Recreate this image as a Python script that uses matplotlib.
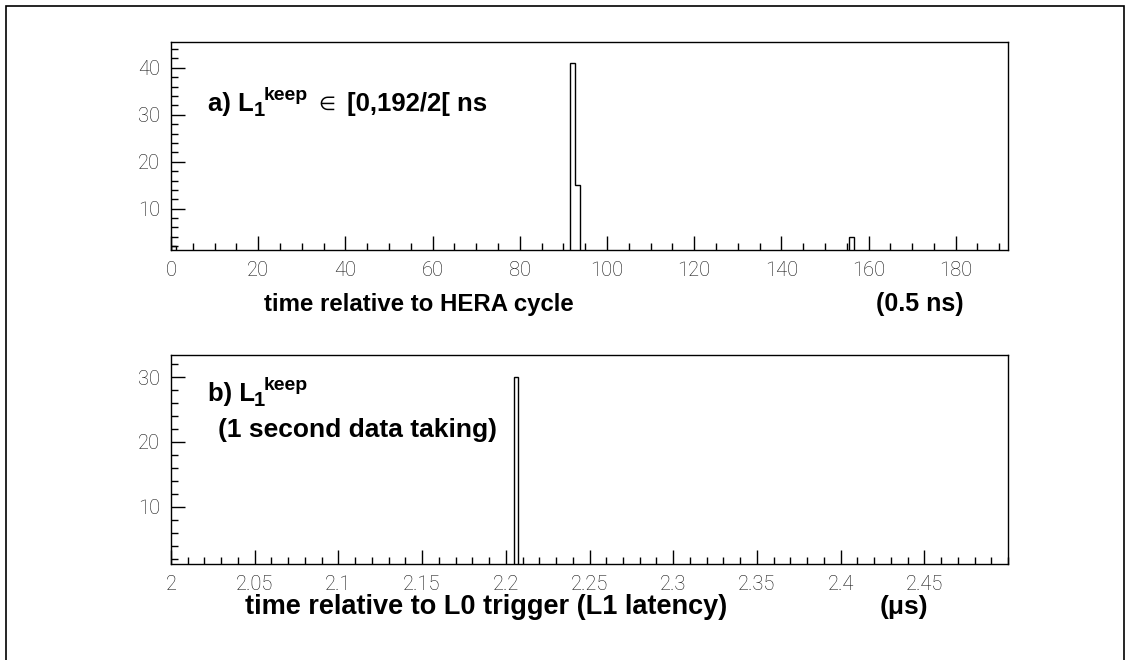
import numpy as np
import matplotlib
matplotlib.use("Agg")
import matplotlib.pyplot as plt
from matplotlib.patches import Rectangle
from matplotlib.ticker import MultipleLocator

plt.rcParams['font.family'] = ['Liberation Sans', 'DejaVu Sans']

# panel a: time relative to HERA cycle (0.5 ns units), 168 bins on [0,192[
a_nbins = 168
a_range = (0, 192)
a_filled = [0, 80, 81, 136]
a_counts = [2, 41, 15, 4]
a_xticks = [0, 20, 40, 60, 80, 100, 120, 140, 160, 180]

# panel b: time relative to L0 trigger (us), 200 bins on [2,2.5[
b_nbins = 200
b_range = (2.0, 2.5)
b_filled = [82]
b_counts = [30]
b_xticks = [2, 2.05, 2.1, 2.15, 2.2, 2.25, 2.3, 2.35, 2.4, 2.45]
b_xlabels = ['2', '2.05', '2.1', '2.15', '2.2', '2.25', '2.3', '2.35', '2.4', '2.45']

a_edges = np.linspace(a_range[0], a_range[1], a_nbins + 1)
a_vals = np.zeros(a_nbins)
a_vals[a_filled] = a_counts

b_edges = np.linspace(b_range[0], b_range[1], b_nbins + 1)
b_vals = np.zeros(b_nbins)
b_vals[b_filled] = b_counts

fig = plt.figure(figsize=(11.25, 6.6), dpi=100)

W, H = 1125.0, 660.0
def box(x0, y0, x1, y1):
    return [x0 / W, 1 - y1 / H, (x1 - x0) / W, (y1 - y0) / H]

ax1 = fig.add_axes(box(171, 42, 1008, 250))
ax2 = fig.add_axes(box(171, 355, 1008, 564))

def style(ax):
    for s in ax.spines.values():
        s.set_linewidth(1.0)
    ax.tick_params(which='both', direction='in', top=False, right=False,
                   width=1.0, colors='black', labelcolor='#111111',
                   labelsize=14.5, labelfontfamily='Roboto')
    ax.tick_params(which='major', length=10, pad=8)
    ax.tick_params(which='minor', length=5)
    for lab in ax.get_xticklabels() + ax.get_yticklabels():
        lab.set_fontweight('light')

# --- panel a
ax1.stairs(a_vals, a_edges, color='black', lw=1.0)
ax1.set_xlim(*a_range)
ax1.set_ylim(1.2, 45.5)
ax1.set_xticks(a_xticks)
ax1.xaxis.set_minor_locator(MultipleLocator(5))
ax1.set_yticks([10, 20, 30, 40])
ax1.yaxis.set_minor_locator(MultipleLocator(2))
style(ax1)

# --- panel b
ax2.stairs(b_vals, b_edges, color='black', lw=1.0)
ax2.set_xlim(*b_range)
ax2.set_ylim(1.2, 33.4)
ax2.set_xticks(b_xticks, b_xlabels)
ax2.xaxis.set_minor_locator(MultipleLocator(0.01))
ax2.set_yticks([10, 20, 30])
ax2.yaxis.set_minor_locator(MultipleLocator(2))
style(ax2)

def txt(x, y, s, size, weight='bold'):
    fig.text(x / W, 1 - y / H, s, fontsize=size, fontweight=weight,
             ha='left', va='baseline')

# panel a annotation, pieces placed so the sub/superscripts keep their size
txt(208, 111, 'a) L', 18.5)
txt(254, 116, '1', 14.5)
txt(264, 100, 'keep', 14)
txt(318, 110, '\u2208', 14, 'normal')
txt(347, 111, '[0,192/2[ ns', 18.5)
txt(264, 311, 'time relative to HERA cycle', 17.3)
txt(876, 311, '(0.5 ns)', 18)

txt(208, 401, 'b) L', 18.5)
txt(254, 406, '1', 14.5)
txt(264, 390, 'keep', 14)
txt(218, 437, '(1 second data taking)', 19)
txt(245, 614, 'time relative to L0 trigger (L1 latency)', 19.5)
txt(880, 614, '(\u03bcs)', 19)

# outer frame
fig.patches.append(Rectangle((6 / W, -0.05), (1123.5 - 6) / W, 1.05 - 6 / H,
                             transform=fig.transFigure, fill=False,
                             edgecolor='black', lw=1.2))

fig.savefig('out.png', dpi=100)
